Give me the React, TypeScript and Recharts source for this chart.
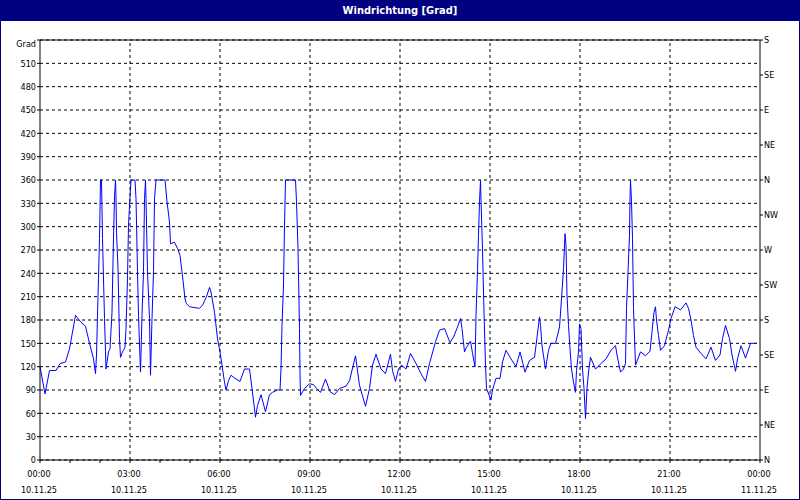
import { LineChart, Line, XAxis, YAxis, CartesianGrid, ReferenceLine } from 'recharts'

// minutes since 00:00 on 10.11.25
const minutes = [
  0, 10, 19, 32, 40, 51, 59, 71, 82, 91, 99, 107, 111, 113, 115, 117, 119, 121, 123, 125,
  129, 131, 132, 137, 140, 144, 147, 149, 151, 152, 153, 156, 159, 161, 165, 170, 172, 175, 177, 180,
  182, 190, 192, 195, 197, 201, 204, 207, 209, 211, 212, 215, 219, 221, 224, 227, 229, 232, 250, 254,
  259, 261, 269, 275, 280, 284, 287, 290, 293, 299, 319, 325, 333, 339, 342, 349, 355, 360, 364, 369,
  372, 377, 382, 390, 400, 409, 419, 424, 431, 435, 442, 451, 459, 465, 475, 480, 482, 484, 487, 489,
  491, 511, 513, 516, 519, 520, 521, 529, 539, 547, 553, 561, 571, 580, 589, 599, 612, 619, 631, 639,
  651, 659, 665, 672, 682, 691, 701, 705, 711, 717, 723, 732, 741, 752, 762, 771, 779, 791, 799, 809,
  820, 827, 835, 841, 844, 849, 853, 861, 865, 870, 872, 875, 877, 879, 881, 882, 885, 888, 891, 893,
  902, 905, 912, 920, 925, 932, 942, 952, 960, 970, 979, 989, 992, 999, 1001, 1004, 1011, 1017, 1022, 1031,
  1039, 1043, 1047, 1050, 1052, 1054, 1057, 1060, 1063, 1067, 1071, 1073, 1077, 1079, 1082, 1085, 1088, 1091, 1094, 1097,
  1101, 1111, 1122, 1132, 1142, 1151, 1154, 1161, 1167, 1171, 1173, 1176, 1179, 1180, 1181, 1183, 1185, 1187, 1191, 1201,
  1211, 1220, 1224, 1228, 1231, 1233, 1237, 1241, 1249, 1257, 1262, 1270, 1281, 1292, 1297, 1302, 1307, 1312, 1322, 1332,
  1342, 1351, 1360, 1365, 1371, 1379, 1384, 1391, 1395, 1402, 1411, 1421, 1433,
]

const degrees = [
  120, 85, 115, 115, 124, 126, 143, 186, 177, 172, 150, 130, 111, 135, 186, 233, 285, 360, 360, 285,
  182, 139, 117, 139, 143, 190, 285, 338, 360, 338, 293, 246, 156, 132, 139, 145, 169, 233, 302, 338,
  360, 360, 336, 242, 186, 113, 186, 242, 336, 360, 336, 242, 182, 109, 182, 242, 336, 360, 360, 332,
  306, 278, 280, 272, 263, 242, 225, 207, 201, 197, 195, 199, 210, 222, 216, 190, 156, 139, 122, 100,
  90, 102, 109, 105, 101, 117, 117, 92, 55, 70, 84, 62, 84, 87, 90, 90, 117, 173, 225, 300,
  360, 360, 332, 272, 169, 111, 83, 92, 98, 97, 92, 87, 104, 88, 84, 92, 95, 102, 134, 96,
  69, 92, 122, 136, 117, 111, 136, 115, 101, 117, 122, 117, 137, 124, 111, 101, 124, 152, 167, 169,
  151, 158, 171, 182, 169, 139, 145, 153, 137, 120, 186, 242, 289, 332, 360, 334, 270, 190, 122, 92,
  77, 90, 105, 105, 126, 141, 130, 120, 139, 113, 128, 132, 147, 184, 173, 147, 117, 141, 150, 150,
  171, 207, 246, 291, 276, 212, 173, 143, 117, 100, 87, 115, 139, 175, 169, 117, 92, 53, 92, 113,
  132, 117, 124, 130, 141, 147, 135, 113, 117, 124, 195, 242, 289, 336, 360, 332, 285, 195, 122, 139,
  134, 140, 165, 190, 197, 180, 160, 141, 147, 167, 182, 197, 193, 202, 195, 180, 160, 145, 137, 130,
  145, 128, 135, 156, 173, 156, 135, 114, 130, 147, 131, 150, 150,
]

const gradTicks = [0, 30, 60, 90, 120, 150, 180, 210, 240, 270, 300, 330, 360, 390, 420, 450, 480, 510, 540]
const compassTicks = [0, 45, 90, 135, 180, 225, 270, 315, 360, 405, 450, 495, 540]
const compassLabels = ['N', 'NE', 'E', 'SE', 'S', 'SW', 'W', 'NW', 'N', 'NE', 'E', 'SE', 'S']
const hourTicks = [
  0, 60, 120, 180, 240, 300, 360, 420, 480, 540, 600, 660, 720, 780, 840, 900, 960, 1020, 1080, 1140,
  1200, 1260, 1320, 1380, 1440,
]
const gridTimes = [180, 360, 540, 720, 900, 1080, 1260]
const timeLabels = ['00:00', '03:00', '06:00', '09:00', '12:00', '15:00', '18:00', '21:00', '00:00']
const dateLabels = ['10.11.25', '10.11.25', '10.11.25', '10.11.25', '10.11.25', '10.11.25', '10.11.25', '10.11.25', '11.11.25']

const data = minutes.map((t, i) => ({ t, deg: degrees[i] }))

const FONT = '"DejaVu Sans Condensed", "DejaVu Sans", sans-serif'
const NAVY = '#000080'

function TimeTick({ x, y, payload }: any) {
  const v = payload.value as number
  if (v % 180 !== 0) return null
  const i = v / 180
  return (
    <text x={x - 1} textAnchor="middle" fontFamily={FONT} fontSize={9} fill="#000">
      <tspan x={x - 1} y={y + 12}>{timeLabels[i]}</tspan>
      <tspan x={x - 1} y={y + 28}>{dateLabels[i]}</tspan>
    </text>
  )
}

function GradTick({ x, y, payload }: any) {
  const v = payload.value as number
  const isTop = v === 540
  return (
    <text
      x={x}
      y={isTop ? y + 4 : y}
      dy="0.355em"
      textAnchor="end"
      fontFamily={FONT}
      fontSize={9}
      fill="#000"
    >
      {isTop ? 'Grad' : v}
    </text>
  )
}

function CompassTick({ x, y, payload }: any) {
  const idx = compassTicks.indexOf(payload.value as number)
  return (
    <text x={x} y={y} dy="0.355em" textAnchor="start" fontFamily={FONT} fontSize={9} fill="#000">
      {compassLabels[idx]}
    </text>
  )
}

export default function App() {
  return (
    <div
      style={{
        position: 'absolute',
        left: 0,
        top: 0,
        width: 800,
        height: 500,
        boxSizing: 'border-box',
        border: `1px solid ${NAVY}`,
        background: '#fff',
      }}
    >
      <div
        style={{
          position: 'absolute',
          left: 0,
          top: 0,
          width: 798,
          height: 20,
          background: NAVY,
          color: '#fff',
          fontFamily: FONT,
          fontWeight: 'bold',
          fontSize: 11,
          lineHeight: '20px',
          textAlign: 'center',
        }}
      >
        Windrichtung [Grad]
      </div>
      <div style={{ position: 'absolute', left: -1, top: -1 }}>
        <LineChart width={800} height={500} data={data} margin={{ top: 40, right: 0, bottom: 0, left: 0 }}>
          <CartesianGrid yAxisId="left" vertical={false} stroke="#000" strokeDasharray="3 3" />
          {gridTimes.map((g) => (
            <ReferenceLine key={g} x={g} yAxisId="left" stroke="#000" strokeDasharray="3 3" />
          ))}
          <ReferenceLine y={540} yAxisId="left" stroke="#000" />
          <XAxis
            dataKey="t"
            type="number"
            domain={[0, 1440]}
            ticks={hourTicks}
            interval={0}
            height={40}
            stroke="#000"
            tickSize={3}
            tick={<TimeTick />}
          />
          <YAxis
            yAxisId="left"
            type="number"
            domain={[0, 540]}
            ticks={gradTicks}
            interval={0}
            width={40}
            stroke="#000"
            tickSize={3}
            tickMargin={1}
            tick={<GradTick />}
          />
          <YAxis
            yAxisId="right"
            orientation="right"
            type="number"
            domain={[0, 540]}
            ticks={compassTicks}
            interval={0}
            width={40}
            stroke="#000"
            tickSize={3}
            tickMargin={1}
            tick={<CompassTick />}
          />
          <Line
            yAxisId="right"
            type="linear"
            dataKey="deg"
            stroke="transparent"
            dot={false}
            activeDot={false}
            isAnimationActive={false}
          />
          <Line
            yAxisId="left"
            type="linear"
            dataKey="deg"
            stroke="#0000ff"
            strokeWidth={1}
            dot={false}
            activeDot={false}
            isAnimationActive={false}
          />
        </LineChart>
      </div>
    </div>
  )
}
